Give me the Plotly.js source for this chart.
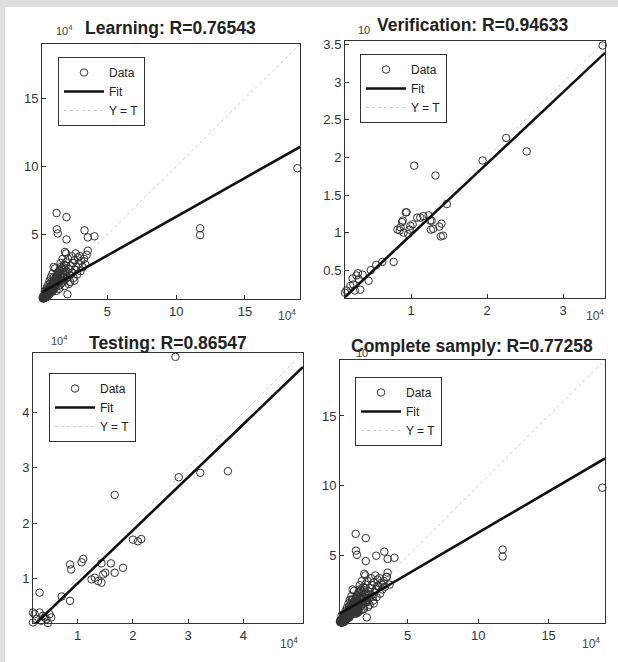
<!DOCTYPE html>
<html>
<head>
<meta charset="utf-8">
<script src="https://cdn.plot.ly/plotly-3.0.1.min.js"></script>
<style>html,body{margin:0;padding:0;background:#fff;}#chart{width:618px;height:662px;}</style>
</head>
<body>
<div id="chart"></div>
<script>
// ---------- DATA (units of 10^4) ----------
const panelTitles = ["Learning: R=0.76543", "Verification: R=0.94633", "Testing: R=0.86547", "Complete samply: R=0.77258"];
const legendLabels = ["Data", "Fit", "Y = T"];

const learningT = [1.31,2.03,1.33,1.40,2.03,3.34,3.58,4.06,1.92,3.58,2.86,1.09,2.10,11.74,11.74,18.81,
  0.35,0.40,0.45,0.50,0.55,0.60,0.65,0.70,0.75,0.80,0.85,0.90,0.95,1.00,1.05,1.10,1.15,1.20,1.25,1.30,1.35,1.40,1.45,1.50,
  1.55,1.60,1.65,1.70,1.75,1.80,1.85,1.90,1.95,2.00,2.05,2.10,2.15,2.20,2.25,2.30,2.35,2.40,2.45,2.50,2.55,2.60,2.65,2.70,
  2.75,2.80,2.90,3.00,3.05,3.10,3.20,3.30,3.40,3.50,1.00,0.80,1.20,0.60,0.90,1.60,1.50,1.90,2.20,1.30,0.45,0.70,2.60,1.75,2.00,
  0.30,0.38,0.42,0.48,0.33,0.52,0.58,0.62,0.68,0.72,0.55,0.78,0.82,0.88,0.92,0.98,1.02,1.08,1.12,1.18,
  0.32,0.36,0.40,0.44,0.47,0.53,0.57,0.63,0.66,0.74,0.77,0.84,0.87,0.93,0.97,1.03,1.07,1.14,1.17,1.23,
  1.27,1.33,1.37,1.43,1.47,1.52,1.57,1.62,1.67,1.72,1.78,1.83,1.88,1.93,1.98,0.70,0.95,1.10,0.50,0.85];
const learningY = [6.57,6.27,5.37,5.07,4.63,5.30,4.78,4.86,3.71,3.80,3.30,2.60,0.60,5.45,4.95,9.87,
  0.30,0.45,0.35,0.55,0.40,0.70,0.50,0.85,0.60,1.00,0.75,1.15,0.85,1.30,0.95,1.50,1.05,1.70,1.20,1.90,1.35,2.10,1.50,1.25,
  2.30,1.70,1.40,2.50,1.85,1.55,2.75,2.05,1.70,2.95,2.25,1.85,3.20,2.45,2.00,1.50,2.70,3.40,2.20,2.90,1.80,3.10,2.40,3.60,
  2.60,2.05,2.85,3.40,2.30,3.05,2.60,3.20,2.80,3.50,2.10,1.60,2.50,1.10,1.85,2.90,1.00,1.20,1.35,0.85,0.80,1.30,1.60,3.20,3.60,
  0.35,0.30,0.50,0.42,0.45,0.35,0.60,0.45,0.68,0.55,0.75,0.80,0.65,0.95,0.78,1.05,0.80,1.20,0.95,1.35,
  0.28,0.40,0.33,0.60,0.48,0.65,0.50,0.85,0.58,0.95,0.70,1.10,0.85,1.25,0.95,1.40,1.10,1.60,1.25,1.80,
  1.40,2.00,1.55,2.20,1.75,2.40,1.95,2.60,2.10,1.65,2.35,1.90,2.55,2.25,2.70,1.05,1.55,1.85,0.85,1.40];

const verificationT = [3.52,2.25,2.52,1.94,1.04,1.32,1.47,0.93,0.89,0.86,0.90,0.98,1.02,1.08,1.16,1.25,1.26,1.37,1.39,0.96,0.82,
  0.94,0.88,0.85,0.99,1.12,1.23,1.27,1.40,1.29,1.42,0.77,0.62,0.54,0.47,0.36,0.30,0.44,0.31,0.24,0.15,0.20,0.33,0.26,0.28,0.23,0.13];
const verificationY = [3.49,2.26,2.08,1.96,1.89,1.76,1.38,1.27,1.16,1.07,1.00,1.04,1.11,1.20,1.22,1.16,1.04,1.08,0.95,0.98,1.04,
  1.27,1.14,1.03,1.09,1.20,1.23,1.16,1.12,1.05,0.96,0.61,0.61,0.57,0.50,0.44,0.46,0.36,0.38,0.31,0.23,0.29,0.24,0.23,0.43,0.39,0.20];

const testingT = [2.77,2.83,3.22,3.72,1.67,2.00,2.15,2.09,0.86,0.88,1.10,1.07,1.43,1.60,1.82,1.67,1.46,1.31,1.37,1.43,1.25,1.50,
  0.31,0.71,0.86,0.19,0.22,0.31,0.37,0.25,0.43,0.49,0.34,0.19,0.46,0.52,0.40];
const testingY = [5.01,2.83,2.91,2.94,2.51,1.70,1.71,1.67,1.25,1.16,1.35,1.29,1.27,1.27,1.19,1.10,1.07,1.01,0.95,0.92,0.98,1.10,
  0.74,0.67,0.59,0.38,0.35,0.38,0.32,0.26,0.26,0.35,0.23,0.20,0.19,0.29,0.29];

const completeT = learningT.concat(verificationT, testingT);
const completeY = learningY.concat(verificationY, testingY);

const fitSlope = [0.57, 0.95, 0.96, 0.59];
const fitIntercept = [0.60, 0.02, -0.05, 0.75];
const axisRanges = [[0.25, 19.0], [0.13, 3.55], [0.19, 5.08], [0.2, 19.0]];
const yTickValues = [[5, 10, 15], [0.5, 1, 1.5, 2, 2.5, 3, 3.5], [1, 2, 3, 4], [5, 10, 15]];
const xTickValues = [[5, 10, 15], [1, 2, 3], [1, 2, 3, 4], [5, 10, 15]];

// ---------- LAYOUT (pixels) ----------
const W = 618, H = 662;
const boxes = [ // [left, right, top, bottom]
  [42, 300, 44, 299],
  [345, 605, 41, 298],
  [33, 303, 353, 623],
  [340, 605, 360, 623]
];
const legendPos = [[58, 57], [360, 54], [49, 373], [355, 377]];
const titlePos = [[170, 28], [472, 25], [168, 343], [472, 346]];
const expTop = [[64, 30, "10<sup>4</sup>"], [364, 30, "10"], [59, 340, "10<sup>4</sup>"], [362, 353, "10"]];
const expBottom = [[287, 315], [595, 315], [289, 643], [591, 643]];

const FONT = "Arial, 'Liberation Sans', sans-serif";
const INK = "#333333";
const px = v => v / W, py = v => 1 - v / H;

const sets = [[learningT, learningY], [verificationT, verificationY], [testingT, testingY], [completeT, completeY]];
const traces = [];
const layout = {
  width: W, height: H,
  margin: {l: 0, r: 0, t: 0, b: 0},
  paper_bgcolor: "#ffffff", plot_bgcolor: "#ffffff",
  font: {family: FONT, size: 12, color: INK},
  annotations: [], shapes: []
};

for (let i = 0; i < 4; i++) {
  const n = i === 0 ? "" : String(i + 1);
  const xa = "x" + n, ya = "y" + n;
  const lg = i === 0 ? "legend" : "legend" + (i + 1);
  const r = axisRanges[i];
  traces.push({
    x: r, y: r, xaxis: xa, yaxis: ya, type: "scatter", mode: "lines",
    name: legendLabels[2], legend: lg, legendrank: 3, line: {color: "#cfcfcf", width: 1, dash: "dot"}
  });
  traces.push({
    x: sets[i][0], y: sets[i][1], xaxis: xa, yaxis: ya, type: "scatter", mode: "markers",
    name: legendLabels[0], legend: lg, legendrank: 1, cliponaxis: false,
    marker: {symbol: "circle-open", size: 7.5, color: INK, line: {width: 1, color: INK}}
  });
  traces.push({
    x: r, y: r.map(v => fitSlope[i] * v + fitIntercept[i]), xaxis: xa, yaxis: ya, type: "scatter", mode: "lines",
    name: legendLabels[1], legend: lg, legendrank: 2, line: {color: "#111111", width: 2.6}
  });
  const b = boxes[i];
  const axCommon = {
    range: r, showgrid: false, zeroline: false, showline: true, mirror: true,
    linecolor: INK, linewidth: 1, ticks: "inside", ticklen: 4, tickcolor: INK,
    tickfont: {family: FONT, size: 13, color: INK}, fixedrange: true
  };
  layout["xaxis" + n] = Object.assign({}, axCommon, {
    domain: [px(b[0]), px(b[1])], anchor: ya, tickmode: "array", tickvals: xTickValues[i], ticktext: xTickValues[i].map(String)
  });
  layout["yaxis" + n] = Object.assign({}, axCommon, {
    domain: [py(b[3]), py(b[2])], anchor: xa, tickmode: "array", tickvals: yTickValues[i], ticktext: yTickValues[i].map(String)
  });
  layout[lg] = {
    x: px(legendPos[i][0]), y: py(legendPos[i][1]), xanchor: "left", yanchor: "top",
    bgcolor: "#ffffff", bordercolor: INK, borderwidth: 1, traceorder: "normal",
    font: {family: FONT, size: 12, color: "#222222"}, itemwidth: 40, tracegroupgap: 0
  };
  layout.annotations.push({
    text: "<b>" + panelTitles[i] + "</b>", xref: "paper", yref: "paper",
    x: px(titlePos[i][0]), y: py(titlePos[i][1]), xanchor: "center", yanchor: "middle",
    showarrow: false, font: {family: FONT, size: 17.5, color: "#222222"}
  });
  layout.annotations.push({
    text: expTop[i][2], xref: "paper", yref: "paper",
    x: px(expTop[i][0]), y: py(expTop[i][1]), xanchor: "center", yanchor: "middle",
    showarrow: false, font: {family: FONT, size: 11, color: "#444444"}
  });
  layout.annotations.push({
    text: "10<sup>4</sup>", xref: "paper", yref: "paper",
    x: px(expBottom[i][0]), y: py(expBottom[i][1]), xanchor: "center", yanchor: "middle",
    showarrow: false, font: {family: FONT, size: 12, color: "#444444"}
  });
}
// light grey page frame (left and top strips)
layout.shapes.push({type: "rect", xref: "paper", yref: "paper", x0: 0, x1: px(5), y0: 0, y1: 1, fillcolor: "#dedede", line: {width: 0}, layer: "below"});
layout.shapes.push({type: "rect", xref: "paper", yref: "paper", x0: 0, x1: 1, y0: py(7), y1: 1, fillcolor: "#dedede", line: {width: 0}, layer: "below"});

Plotly.newPlot("chart", traces, layout, {staticPlot: true, displayModeBar: false});
</script>
</body>
</html>
